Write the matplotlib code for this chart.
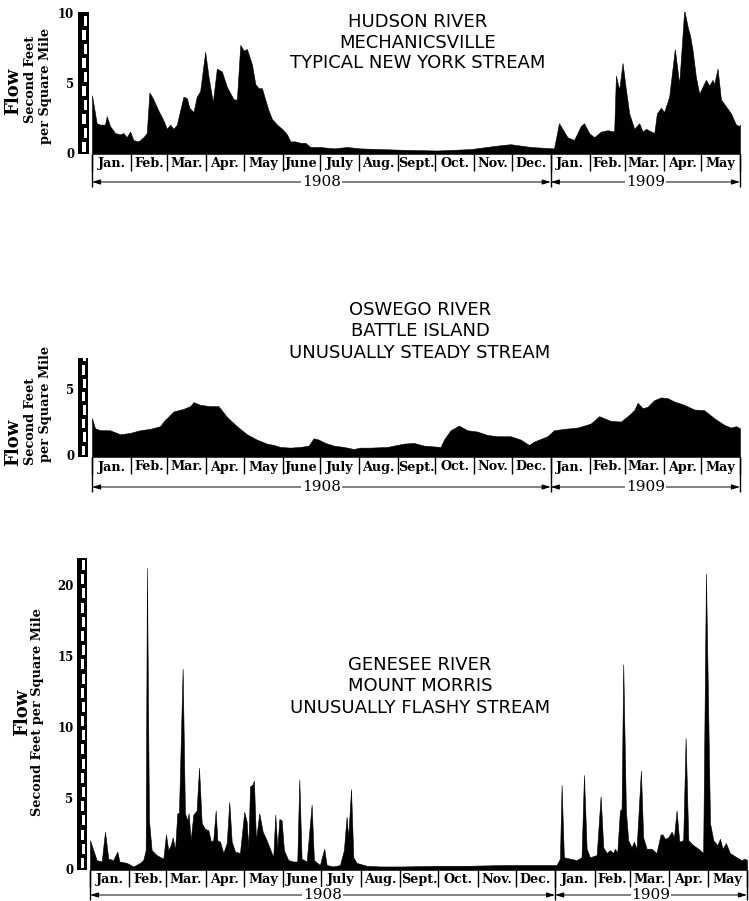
import matplotlib
matplotlib.use("Agg")
import matplotlib.pyplot as plt
from matplotlib.patches import Rectangle
from matplotlib.transforms import blended_transform_factory

W, H = 749, 901

# ---------------- data ----------------
month_names = ["Jan.", "Feb.", "Mar.", "Apr.", "May", "June", "July", "Aug.",
               "Sept.", "Oct.", "Nov.", "Dec.", "Jan.", "Feb.", "Mar.", "Apr.", "May"]
# day offsets from 1 Jan 1908 of each month start (last = end of May 1909)
month_starts = [0, 31, 60, 91, 121, 152, 182, 213, 244, 274, 305, 335,
                366, 397, 425, 456, 486, 517]
year_labels = ["1908", "1909"]
year_bounds = [0, 366, 517]

hudson_day = [0, 3.7, 6.4, 10.4, 11.7, 14.4, 18.4, 22.4, 25.0, 27.7, 30.4, 33.0, 37.0, 41.0,
              43.7, 45.8, 49.0, 53.0, 57.0, 59.7, 62.3, 65.0, 67.7, 70.3, 73.0, 75.6, 77.7,
              81.0, 83.6, 86.3, 90.3, 93.0, 96.4, 99.6, 103.6, 107.6, 113.0, 115.6, 118.3,
              120.9, 123.6, 127.6, 130.3, 132.9, 135.6, 138.2, 140.9, 143.6, 147.6, 151.6,
              155.6, 158.2, 162.2, 166.2, 170.2, 174.2, 182.2, 192.8, 203.5, 214.1, 230.1,
              248.8, 275.4, 302.0, 323.4, 334.0, 350.0, 368.6, 372.6, 375.3, 379.3, 384.6,
              390.0, 392.6, 396.6, 400.6, 406.0, 411.3, 416.6, 418.0, 420.6, 423.3, 426.0,
              428.6, 432.6, 436.6, 439.3, 441.9, 448.6, 450.7, 453.9, 456.5, 460.5, 465.0,
              468.5, 472.5, 475.2, 477.3, 479.2, 481.8, 484.5, 487.1, 489.8, 492.4, 495.1,
              496.4, 499.1, 501.8, 505.8, 509.8, 513.8, 516.4, 517]
hudson_flow = [4.2, 2.2, 2.1, 2.1, 2.7, 2.0, 1.5, 1.4, 1.5, 1.2, 1.6, 1.0, 0.9, 1.2,
               1.5, 4.4, 3.9, 3.1, 2.4, 1.8, 2.1, 1.8, 2.1, 3.1, 4.1, 4.0, 3.3,
               3.0, 4.1, 4.5, 7.3, 5.5, 3.7, 6.1, 5.9, 4.8, 3.9, 3.9, 7.8,
               7.4, 7.5, 6.4, 5.0, 4.7, 4.7, 3.9, 3.1, 2.5, 2.1, 1.8,
               1.4, 0.9, 0.9, 0.8, 0.8, 0.5, 0.5, 0.4, 0.5, 0.4, 0.35,
               0.3, 0.25, 0.35, 0.6, 0.7, 0.5, 0.4, 2.2, 1.8, 1.2, 1.0,
               2.0, 2.2, 1.5, 1.2, 1.6, 1.7, 1.6, 5.6, 4.6, 6.5, 4.6,
               2.9, 1.8, 2.2, 1.6, 1.8, 1.5, 2.9, 3.3, 3.0, 4.1, 7.5,
               5.0, 10.3, 9.1, 8.4, 7.4, 5.5, 4.3, 4.8, 5.3, 4.9, 5.3,
               5.0, 6.1, 3.9, 3.4, 2.9, 2.1, 2.0, 2.1]

oswego_day = [0, 2.4, 6.4, 14.4, 22.4, 30.4, 38.4, 46.3, 54.3, 58.3, 59.7, 65.0, 73.0,
              78.3, 81.0, 86.3, 94.3, 100.9, 107.6, 115.6, 123.6, 131.5, 139.5, 144.9,
              150.2, 158.2, 166.2, 172.8, 176.8, 180.8, 186.2, 192.8, 200.8, 208.8, 214.1,
              222.1, 235.5, 248.8, 256.8, 264.8, 278.1, 280.8, 286.1, 292.7, 299.4, 307.4,
              315.4, 323.4, 334.0, 342.0, 348.6, 352.6, 358.0, 363.3, 368.6, 376.6, 387.3,
              397.9, 404.6, 408.6, 413.9, 421.9, 427.3, 432.6, 435.3, 439.3, 443.2, 448.6,
              453.9, 459.2, 464.5, 472.5, 480.5, 488.4, 496.4, 504.4, 509.8, 513.8, 517]
oswego_flow = [2.9, 2.15, 2.0, 2.0, 1.7, 1.8, 2.0, 2.1, 2.3, 2.8, 2.9, 3.4, 3.6,
               3.8, 4.1, 3.9, 3.8, 3.8, 3.0, 2.3, 1.7, 1.3, 1.0, 0.9,
               0.75, 0.7, 0.75, 0.85, 1.4, 1.3, 1.05, 0.85, 0.75, 0.6, 0.7,
               0.7, 0.75, 1.0, 1.05, 0.85, 0.75, 1.3, 2.0, 2.35, 2.0, 1.9,
               1.65, 1.55, 1.55, 1.3, 0.9, 1.15, 1.35, 1.55, 2.0, 2.1, 2.2,
               2.5, 3.05, 2.9, 2.7, 2.65, 3.05, 3.5, 4.05, 3.65, 3.75, 4.25,
               4.45, 4.4, 4.15, 3.9, 3.55, 3.5, 2.9, 2.4, 2.2, 2.3, 2.15]

genesee_day = [0, 2.6, 5.2, 9.2, 11.8, 14.4, 18.3, 21.5, 23.1, 28.9, 34.1, 39.3, 41.9,
               43.8, 44.8, 46.4, 48.5, 52.5, 57.7, 59.8, 61.6, 63.5, 65.1, 66.9, 68.7,
               70.0, 72.9, 74.7, 76.6, 77.6, 79.2, 81.3, 83.9, 85.8, 87.9, 90.5, 93.1,
               95.2, 97.0, 98.9, 100.2, 102.3, 104.9, 107.6, 109.6, 111.5, 114.1, 118.0,
               121.4, 123.3, 124.6, 125.9, 127.7, 129.0, 130.6, 133.2, 135.9, 138.5, 141.6,
               144.2, 145.8, 147.4, 149.0, 150.8, 152.6, 156.0, 159.9, 163.1, 164.7, 166.5,
               170.5, 174.4, 176.2, 180.9, 184.3, 186.2, 191.4, 196.7, 199.8, 201.9, 203.2,
               205.4, 207.2, 209.8, 217.7, 228.2, 246.5, 272.8, 299.0, 325.2, 351.4, 367.2,
               369.8, 371.1, 372.9, 377.6, 382.9, 386.8, 388.7, 390.8, 393.4, 398.7, 401.8,
               403.9, 406.5, 409.1, 411.8, 413.1, 414.9, 417.0, 418.3, 419.6, 421.7, 423.5,
               426.2, 428.0, 430.1, 433.5, 435.3, 438.0, 441.9, 445.8, 449.0, 450.6, 452.4,
               455.0, 457.7, 459.5, 461.6, 463.7, 466.8, 468.7, 470.8, 474.7, 478.7, 482.5,
               484.7, 487.9, 490.5, 493.7, 495.7, 497.8, 500.4, 503.5, 508.8, 512.7, 515.3,
               517]
genesee_flow = [2.1, 1.4, 0.7, 0.6, 2.7, 0.8, 0.7, 1.3, 0.6, 0.5, 0.25, 0.5, 0.7,
                1.4, 21.3, 3.5, 1.4, 1.05, 0.8, 2.5, 1.4, 1.75, 2.3, 1.4, 4.0,
                4.0, 14.2, 4.0, 3.5, 4.0, 2.1, 3.9, 4.2, 7.2, 3.3, 2.9, 2.8,
                2.0, 2.1, 4.2, 2.1, 2.0, 1.2, 1.9, 4.8, 2.0, 1.3, 1.2,
                4.1, 3.4, 1.5, 5.9, 6.0, 6.3, 2.1, 4.0, 2.7, 2.2, 1.5,
                0.9, 3.9, 1.5, 3.6, 3.5, 1.4, 0.7, 0.6, 0.6, 6.4, 0.8,
                0.6, 4.6, 0.7, 0.35, 1.5, 0.35, 0.25, 0.35, 1.4, 3.75, 2.3,
                5.7, 0.9, 0.5, 0.3, 0.25, 0.25, 0.3, 0.3, 0.35, 0.35, 0.35,
                0.8, 6.0, 0.9, 0.8, 0.7, 0.9, 6.7, 1.5, 0.9, 1.05, 5.2,
                1.6, 1.2, 1.4, 1.2, 1.5, 1.2, 4.2, 4.3, 14.5, 4.2, 2.1,
                1.6, 2.0, 1.5, 7.0, 2.3, 1.5, 1.5, 1.2, 2.5, 2.5, 2.2,
                2.3, 2.7, 2.3, 4.2, 2.0, 2.1, 9.3, 2.1, 1.75, 1.5, 1.2,
                20.9, 3.3, 2.1, 1.75, 2.2, 1.5, 1.9, 1.2, 0.9, 0.7, 0.8,
                0.7]

titles = [["HUDSON RIVER", "MECHANICSVILLE", "TYPICAL NEW YORK STREAM"],
          ["OSWEGO RIVER", "BATTLE ISLAND", "UNUSUALLY STEADY STREAM"],
          ["GENESEE RIVER", "MOUNT MORRIS", "UNUSUALLY FLASHY STREAM"]]
yticks = [[0, 5, 10], [0, 5], [0, 5, 10, 15, 20]]

# ---------------- layout (pixels) ----------------
panels = [
    dict(day=hudson_day, flow=hudson_flow, x0=92, x1=740, ytop=12, ybot=154, ymax=10.15,
         sx=(78, 89), title_x=418, title_y=[22, 43, 63], month_y=9, year_y=28,
         ylab=[("Flow", 13, 91, 13), ("Second Feet", 30, 79, 9.3), ("per Square Mile", 45, 86, 9.3)]),
    dict(day=oswego_day, flow=oswego_flow, x0=92, x1=740, ytop=358, ybot=457, ymax=7.4,
         sx=(78, 88), title_x=420, title_y=[310, 331, 353], month_y=10, year_y=30,
         ylab=[("Flow", 13, 442, 13), ("Second Feet", 30, 421, 9.3), ("per Square Mile", 45, 404, 9.3)]),
    dict(day=genesee_day, flow=genesee_flow, x0=90, x1=747, ytop=558, ybot=870, ymax=22.0,
         sx=(77, 87), title_x=420, title_y=[665, 686, 708], month_y=10, year_y=25,
         ylab=[("Flow", 22, 712, 13), ("Second Feet per Square Mile", 38, 712, 9.3)]),
]

SERIF = ["DejaVu Serif"]
SANS = ["DejaVu Sans"]

fig = plt.figure(figsize=(W / 100, H / 100), dpi=100)
fig.patch.set_facecolor("white")


def pxax(x0, y0, x1, y1):
    return fig.add_axes([x0 / W, 1 - y1 / H, (x1 - x0) / W, (y1 - y0) / H])


for i, p in enumerate(panels):
    xmax = month_starts[-1]
    ax = pxax(p["x0"], p["ytop"], p["x1"], p["ybot"])
    ax.fill_between(p["day"], p["flow"], 0, color="black", lw=0.4, edgecolor="black")
    ax.set_xlim(0, xmax)
    ax.set_ylim(0, p["ymax"])
    ax.axis("off")

    # checkered scale strip
    sa = pxax(p["sx"][0], p["ytop"], p["sx"][1], p["ybot"])
    sa.set_xlim(0, 1)
    sa.set_ylim(0, p["ymax"])
    sa.axis("off")
    sa.add_patch(Rectangle((0, 0), 1, p["ymax"], color="black", lw=0))
    k = 0
    while k < p["ymax"] - 0.3:
        xl = 0.40 if k % 2 == 0 else 0.52
        sa.add_patch(Rectangle((xl, k + 0.15), 0.32, 0.7, color="white", lw=0))
        k += 1
    tr = blended_transform_factory(sa.transAxes, sa.transData)
    for t in yticks[i]:
        sa.text(-0.35, t, str(t), transform=tr, ha="right", va="center",
                fontsize=8.5, fontweight="bold", family=SERIF)

    # month row and year arrows (y in pixels below axis)
    mx = pxax(p["x0"], p["ybot"], p["x1"], p["ybot"] + 40)
    mx.set_xlim(0, xmax)
    mx.set_ylim(40, 0)
    mx.axis("off")
    mx.vlines(month_starts, 0, 17, color="black", lw=1.0, clip_on=False)
    mx.vlines([year_bounds[0], year_bounds[1], year_bounds[2]], 0, p["year_y"] + 5,
              color="black", lw=1.0, clip_on=False)
    for j, name in enumerate(month_names):
        mx.text((month_starts[j] + month_starts[j + 1]) / 2, p["month_y"], name,
                ha="center", va="center", fontsize=9.2, fontweight="bold", family=SERIF,
                clip_on=False)
    for j, yl in enumerate(year_labels):
        a, b = year_bounds[j], year_bounds[j + 1]
        mx.annotate("", xy=(a, p["year_y"]), xytext=(b, p["year_y"]),
                    arrowprops=dict(arrowstyle="<|-|>,head_length=0.5,head_width=0.15",
                                    lw=0.7, color="black", shrinkA=0, shrinkB=0),
                    annotation_clip=False)
        mx.text((a + b) / 2, p["year_y"], yl, ha="center", va="center", fontsize=11,
                family=SERIF, bbox=dict(facecolor="white", edgecolor="none", pad=0.5),
                clip_on=False)

    # titles
    for line, ty in zip(titles[i], p["title_y"]):
        fig.text(p["title_x"] / W, 1 - ty / H, line, ha="center", va="center",
                 fontsize=13, family=SANS)

    # y labels
    for txt, lx, ly, fs in p["ylab"]:
        fig.text(lx / W, 1 - ly / H, txt, rotation=90, ha="center", va="center",
                 fontsize=fs, fontweight="bold", family=SERIF)

fig.savefig("out.png", dpi=100, facecolor="white")
